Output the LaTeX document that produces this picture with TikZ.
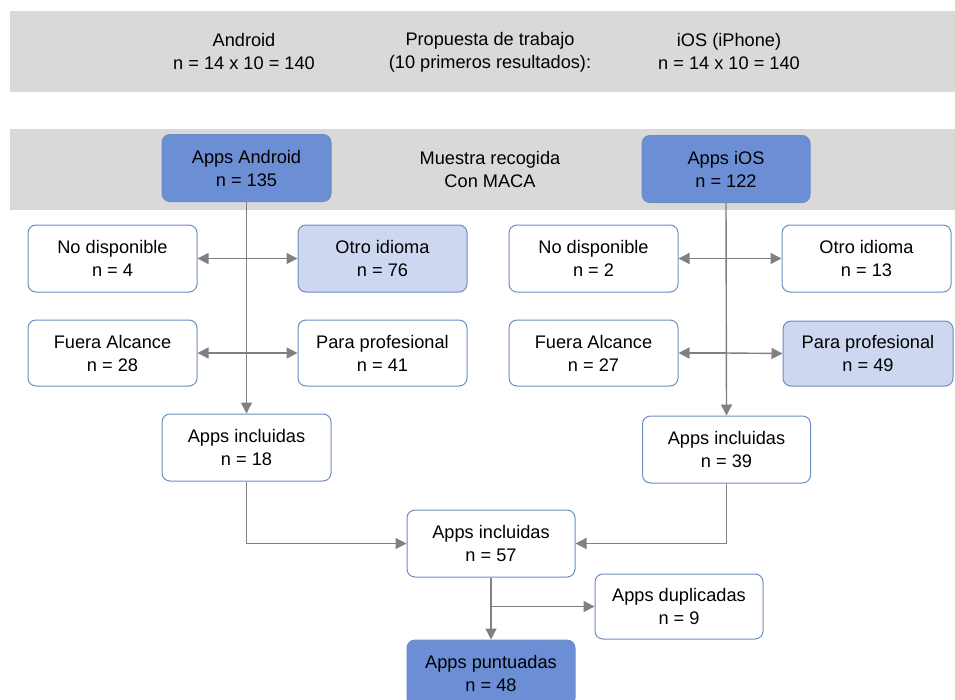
\documentclass[tikz,border=0pt]{standalone}
\usepackage{fontspec}
\setmainfont{Liberation Sans}
\usetikzlibrary{arrows.meta}
\definecolor{bandgray}{RGB}{217,217,217}
\definecolor{darkfill}{RGB}{108,142,212}
\definecolor{lightfill}{RGB}{205,216,240}
\definecolor{boxborder}{RGB}{108,142,191}
\definecolor{linegray}{RGB}{128,128,128}
\begin{document}
\begin{tikzpicture}[x=1pt,y=-1pt,
  txt/.style={align=center, font=\fontsize{18.2}{23}\selectfont, inner sep=0pt},
  box/.style={txt, draw=boxborder, line width=1pt, rounded corners=8pt, fill=white,
    minimum width=169pt, minimum height=67pt},
  darkbox/.style={box, fill=darkfill},
  lightbox/.style={box, fill=lightfill},
  conn/.style={draw=linegray, line width=1.4pt},
  tip/.style={-{Triangle[length=11pt,width=11pt]}},
  band/.style={fill=bandgray, draw=none}]
\useasboundingbox (0,0) rectangle (955,699);
\fill[white] (0,0) rectangle (955,699);
% bands
\path[band] (10,11) rectangle (955,92);
\path[band] (10,129) rectangle (955,210);
\node[txt] (tA) at (244,51) {Android\\n = 14 x 10 = 140};
\node[txt] (tP) at (490,52) {Propuesta de trabajo\\(10 primeros resultados):};
\node[txt] (tI) at (729,51) {iOS (iPhone)\\n = 14 x 10 = 140};
\node[txt] (tM) at (490,169) {Muestra recogida\\Con MACA};
% boxes
\node[darkbox] (aa) at (246.5,168) {Apps Android\\n = 135};
\node[darkbox, minimum width=168pt] (ai) at (726,169) {Apps iOS\\n = 122};
\node[box] (nd1) at (112.5,258.5) {No disponible\\n = 4};
\node[lightbox] (oi1) at (382.5,258.5) {Otro idioma\\n = 76};
\node[box, minimum height=66pt] (fa1) at (112.5,353) {Fuera Alcance\\n = 28};
\node[box, minimum height=66pt] (pp1) at (382.5,353) {Para profesional\\n = 41};
\node[box] (nd2) at (593.5,258.5) {No disponible\\n = 2};
\node[box] (oi2) at (866.5,258.5) {Otro idioma\\n = 13};
\node[box, minimum height=66pt] (fa2) at (593.5,353) {Fuera Alcance\\n = 27};
\node[lightbox, minimum width=170pt, minimum height=65pt] (pp2) at (868,353.5) {Para profesional\\n = 49};
\node[box] (inc1) at (246.5,447.5) {Apps incluidas\\n = 18};
\node[box, minimum width=168pt] (inc2) at (726.5,449.5) {Apps incluidas\\n = 39};
\node[box, minimum width=168pt] (inc3) at (491,543.5) {Apps incluidas\\n = 57};
\node[box, minimum width=168pt, minimum height=65pt] (dup) at (679,606.5) {Apps duplicadas\\n = 9};
\node[darkbox, minimum width=168pt, minimum height=66pt] (pun) at (491,673) {Apps puntuadas\\n = 48};
% connectors
\coordinate (m1) at (aa.south |- nd1.east);
\coordinate (m2) at (aa.south |- fa1.east);
\coordinate (m3) at (ai.south |- nd2.east);
\coordinate (m4) at (ai.south |- fa2.east);
\coordinate (m5) at (inc3.south |- dup.west);
\draw[conn, tip] (aa.south) -- (inc1.north);
\draw[conn, tip] (ai.south) -- (inc2.north);
\draw[conn, tip] (m1) -- (nd1.east);
\draw[conn, tip] (m1) -- (oi1.west);
\draw[conn, tip] (m2) -- (fa1.east);
\draw[conn, tip] (m2) -- (pp1.west);
\draw[conn, tip] (m3) -- (nd2.east);
\draw[conn, tip] (m3) -- (oi2.west);
\draw[conn, tip] (m4) -- (fa2.east);
\draw[conn, tip] (m4) -- (pp2.west);
\draw[conn, tip] (inc1.south) |- (inc3.west);
\draw[conn, tip] (inc2.south) |- (inc3.east);
\draw[conn, tip] (inc3.south) -- (pun.north);
\draw[conn, tip] (m5) -- (dup.west);
\end{tikzpicture}
\end{document}
